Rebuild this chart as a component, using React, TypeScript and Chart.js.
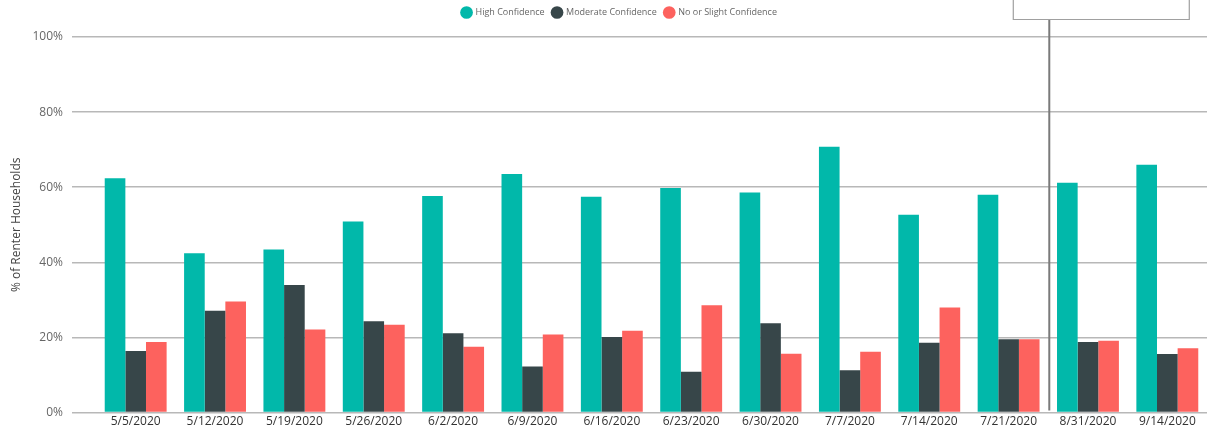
import React, { useEffect, useRef } from "react";
import { Chart, registerables } from "chart.js";

Chart.register(...registerables);

const weeks = [
  "5/5/2020", "5/12/2020", "5/19/2020", "5/26/2020", "6/2/2020", "6/9/2020", "6/16/2020",
  "6/23/2020", "6/30/2020", "7/7/2020", "7/14/2020", "7/21/2020", "8/31/2020", "9/14/2020",
];
const highConfidence = [62.4, 42.4, 43.4, 50.9, 57.7, 63.5, 57.5, 59.8, 58.6, 70.8, 52.7, 58.0, 61.2, 66.0];
const moderateConfidence = [16.4, 27.1, 34.0, 24.3, 21.1, 12.3, 20.1, 10.9, 23.8, 11.3, 18.6, 19.5, 18.8, 15.6];
const lowConfidence = [18.8, 29.6, 22.1, 23.4, 17.5, 20.8, 21.8, 28.6, 15.7, 16.2, 28.0, 19.5, 19.1, 17.1];
const yTicks = [0, 20, 40, 60, 80, 100];

const FONT = "'Open Sans', 'Noto Sans', sans-serif";

// Extra room under the legend, and a slight nudge of the legend to the right
const legendSpacing = {
  id: "legendSpacing",
  beforeInit(chart: any) {
    const fit = chart.legend.fit;
    chart.legend.fit = function () {
      fit.call(this);
      this.height += 10;
    };
  },
  afterLayout(chart: any) {
    chart.legend.left += 16;
    chart.legend.right += 16;
  },
};

// Vertical marker separating the July and late-summer survey weeks, with its callout box
const phaseMarker = {
  id: "phaseMarker",
  afterDatasetsDraw(chart: any) {
    const { ctx, chartArea, scales } = chart;
    const x = (scales.x.getPixelForValue(11) + scales.x.getPixelForValue(12)) / 2 + 1;
    const boxBottom = 19.5;
    ctx.save();
    ctx.strokeStyle = "#7a7a7a";
    ctx.lineWidth = 2;
    ctx.beginPath();
    ctx.moveTo(x, boxBottom);
    ctx.lineTo(x, chartArea.bottom - 2);
    ctx.stroke();
    ctx.strokeStyle = "#a0a0a0";
    ctx.lineWidth = 1.2;
    ctx.fillStyle = "#ffffff";
    ctx.beginPath();
    ctx.rect(x - 36, -10, 176, boxBottom + 10);
    ctx.fill();
    ctx.stroke();
    ctx.restore();
  },
};

export default function App() {
  const canvasRef = useRef<HTMLCanvasElement | null>(null);

  useEffect(() => {
    if (!canvasRef.current) return;
    const chart = new Chart(canvasRef.current, {
      type: "bar",
      data: {
        labels: weeks,
        datasets: [
          { label: "High Confidence", data: highConfidence, backgroundColor: "#01B8AA" },
          { label: "Moderate Confidence", data: moderateConfidence, backgroundColor: "#374649" },
          { label: "No or Slight Confidence", data: lowConfidence, backgroundColor: "#FD625E" },
        ],
      },
      options: {
        animation: false,
        responsive: true,
        maintainAspectRatio: false,
        datasets: { bar: { categoryPercentage: 0.78, barPercentage: 1.0 } },
        layout: { padding: { left: 0, right: 7, top: 0, bottom: 0 } },
        plugins: {
          tooltip: { enabled: false },
          legend: {
            position: "top",
            labels: {
              usePointStyle: true,
              pointStyle: "circle",
              boxWidth: 9,
              boxHeight: 9,
              padding: 8,
              color: "#666666",
              font: { family: FONT, size: 9 },
            },
          },
        },
        scales: {
          x: {
            grid: { display: false, drawTicks: false },
            border: { display: false },
            ticks: {
              color: "#333333",
              font: { family: FONT, size: 12 },
              maxRotation: 0,
              autoSkip: false,
              padding: 2,
            },
          },
          y: {
            min: 0,
            max: 100,
            afterBuildTicks(scale: any) {
              scale.ticks = yTicks.map((v) => ({ value: v }));
            },
            afterFit(scale: any) {
              scale.width = 96;
            },
            border: { display: false },
            grid: { color: "#b8b8b8", lineWidth: 1.5, tickLength: 24, drawTicks: true },
            ticks: {
              color: "#666666",
              font: { family: FONT, size: 12 },
              padding: 9,
              callback: (v: any) => `${v}%`,
            },
            title: {
              display: true,
              text: "% of Renter Households",
              color: "#444444",
              font: { family: FONT, size: 12 },
              padding: { top: 9, bottom: 0 },
            },
          },
        },
      },
      plugins: [legendSpacing, phaseMarker],
    });
    return () => chart.destroy();
  }, []);

  return (
    <div style={{ position: "fixed", left: 0, top: 0, width: 1214, height: 431, background: "#fff" }}>
      <canvas ref={canvasRef} />
    </div>
  );
}
